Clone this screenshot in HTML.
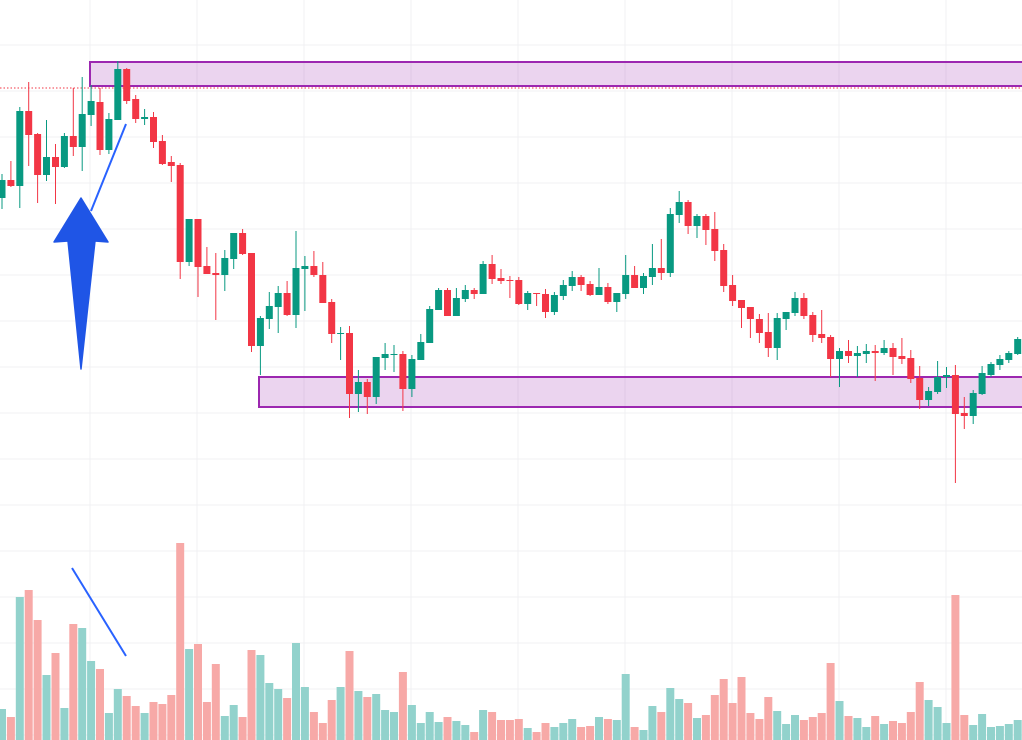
<!DOCTYPE html>
<html><head><meta charset="utf-8"><style>
html,body{margin:0;padding:0;background:#fff;}
svg{display:block;}
</style></head><body>
<svg id="c" width="1022" height="740" xmlns="http://www.w3.org/2000/svg"></svg>
<script>
var C=[
['g',180,198,174,209],['r',180,186,161,187],['g',111,186,107,208],['r',111,135,82,166],['r',134,175,133,203],
['g',157,175,120,181],['r',157,167,144,204],['g',136,167,133,168],['r',136,147,88,156],['g',114,147,77,171],
['g',101,115,85,126],['r',102,150,88,155],['g',119,150,113,154],['g',69,120,61,120],['r',69,101,68,104],
['r',99,119,95,123],['g',117,119,109,125],['r',117,142,112,148],['r',141,164,135,165],['r',162,166,156,182],
['r',165,262,163,279],['g',219,262,219,266],['r',219,267,219,297],['r',266,274,247,274],['r',273,275,253,320],
['g',258,275,250,291],['g',233,259,233,269],['r',233,254,229,255],['r',253,346,253,352],['g',318,346,316,375],
['g',306,319,292,329],['g',293,307,286,333],['r',293,315,281,316],['g',268,315,231,328],['g',266,269,256,311],
['r',266,275,251,277],['r',275,303,262,303],['r',302,334,299,343],['g',333,334,327,360],['r',333,394,326,418],
['g',382,394,370,412],['r',382,397,379,414],['g',357,397,357,404],['g',354,358,343,370],['g',354,355,345,372],
['r',354,389,351,411],['g',359,389,355,397],['g',342,360,334,360],['g',309,343,306,343],['g',290,310,288,310],
['r',290,316,288,316],['g',298,316,288,316],['g',290,299,285,302],['r',290,294,288,299],['g',264,294,261,294],
['r',264,279,255,284],['r',278,281,269,284],['r',280,281,276,298],['r',280,304,277,305],['g',293,304,291,310],
['r',293,294,293,306],['r',294,312,289,318],['g',295,312,292,315],['g',285,296,280,300],['g',277,286,271,291],
['r',277,285,275,291],['r',284,295,281,296],['g',287,295,268,295],['r',287,302,283,304],['g',293,302,293,312],
['g',275,294,255,299],['r',275,288,266,288],['g',276,288,273,294],['g',268,277,244,285],['r',268,273,239,280],
['g',214,273,208,277],['g',202,215,191,223],['r',202,226,200,234],['g',216,226,214,238],['r',216,230,214,245],
['r',229,251,212,261],['r',250,286,244,292],['r',285,301,275,306],['r',300,308,300,328],['r',307,319,307,338],
['r',319,333,314,343],['r',332,348,313,357],['g',318,348,313,360],['g',312,319,312,330],['g',298,313,292,316],
['r',298,316,293,319],['r',315,335,312,342],['r',334,338,310,343],['r',337,359,335,377],['g',351,359,348,387],
['r',351,356,340,363],['g',353,356,346,377],['g',351,354,344,363],['r',351,353,345,381],['g',348,353,340,355],
['r',348,357,343,375],['r',356,359,338,364],['r',358,379,350,383],['r',378,400,366,409],['g',391,400,387,406],
['g',377,392,361,394],['g',375,377,367,388],['r',375,414,365,483],['r',413,416,397,429],['g',393,416,390,424],
['g',373,394,366,395],['g',364,375,362,377],['g',359,365,355,370],['g',353,360,351,363],['g',339,354,337,355]];
var V=[709,717,597,590,620,675,653,708,624,628,661,669,713,689,696,706,713,702,704,695,543,649,644,702,664,716,705,717,650,655,683,689,698,643,687,712,723,700,687,651,691,697,694,710,712,672,705,723,712,722,717,721,725,732,710,712,720,720,719,728,732,723,727,723,719,727,726,717,719,720,674,727,730,706,712,688,699,703,718,715,695,679,703,677,713,719,697,711,724,715,720,717,713,663,701,716,718,727,716,724,721,723,712,682,700,707,723,595,715,725,714,727,726,724,720];
var s='';
var vx=[90,197,304,411,518,625,732,839,946];
vx.forEach(function(x){s+='<line x1="'+x+'" y1="0" x2="'+x+'" y2="740" stroke="#f0f0f3" stroke-width="1"/>';});
for(var y=45;y<740;y+=46){s+='<line x1="0" y1="'+y+'" x2="1022" y2="'+y+'" stroke="#f0f0f3" stroke-width="1"/>';}
// volume
for(var i=0;i<V.length;i++){var x=2+i*8.91;var col=C[i][0]=='g'?'#92d2cc':'#f7a9a7';
s+='<rect x="'+(x-4).toFixed(1)+'" y="'+V[i]+'" width="8" height="'+(740-V[i])+'" fill="'+col+'"/>';}
// rectangles
s+='<rect x="90" y="62" width="940" height="24" fill="rgba(156,39,176,0.2)" stroke="#9c27b0" stroke-width="2"/>';
s+='<rect x="259" y="377" width="770" height="30" fill="rgba(156,39,176,0.2)" stroke="#9c27b0" stroke-width="2"/>';
s+='<line x1="0" y1="88" x2="1022" y2="88" stroke="#f23645" stroke-width="1" stroke-dasharray="1.5,2"/>';
// candles
for(var i=0;i<C.length;i++){var c=C[i];var x=2+i*8.91;var col=c[0]=='g'?'#089981':'#f23645';
s+='<line x1="'+x.toFixed(1)+'" y1="'+c[3]+'" x2="'+x.toFixed(1)+'" y2="'+c[4]+'" stroke="'+col+'" stroke-width="1"/>';
var h=Math.max(1,c[2]-c[1]);
s+='<rect x="'+(x-3.5).toFixed(1)+'" y="'+c[1]+'" width="7" height="'+h+'" fill="'+col+'"/>';}
// drawings
s+='<line x1="91" y1="211" x2="126" y2="124" stroke="#2962ff" stroke-width="2"/>';
s+='<line x1="72" y1="568" x2="126" y2="656" stroke="#2962ff" stroke-width="2"/>';
s+='<path d="M81,198 L108,242 L95,241 L81,369 L68,241 L54,242 Z" fill="#1f55e6" stroke="#1f55e6" stroke-width="1.5" stroke-linejoin="round"/>';
document.getElementById('c').innerHTML=s;
</script>
</body></html>
